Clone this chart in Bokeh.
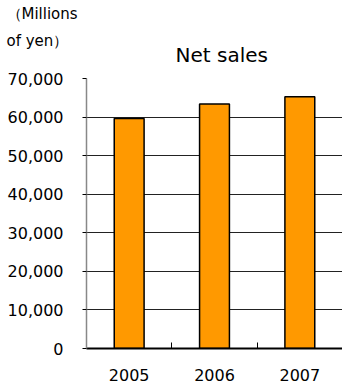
from bokeh.plotting import figure
from bokeh.models import Range1d, FixedTicker, NumeralTickFormatter, Title
from bokeh.embed import file_html
from bokeh.resources import INLINE

years = ["2005", "2006", "2007"]
sales = [59600, 63400, 65300]
y_ticks = [0, 10000, 20000, 30000, 40000, 50000, 60000, 70000]
title_text = "Net sales"
unit_text = "（Millions\nof yen）"

FONT = "DejaVu Sans"
xs = [i + 1 for i in range(len(years))]

p = figure(width=342, height=388, output_backend="svg", toolbar_location=None,
           x_range=Range1d(0.5, len(years) + 0.5), y_range=Range1d(0, 70000),
           min_border_left=86, min_border_right=0, min_border_top=78, min_border_bottom=40)
p.outline_line_color = None
p.background_fill_color = "white"
p.border_fill_color = "white"

p.vbar(x=xs, top=sales, bottom=0, width=0.35, fill_color="#FF9900",
       line_color="black", line_width=1.5)

ya = p.yaxis[0]
ya.ticker = FixedTicker(ticks=y_ticks)
ya.formatter = NumeralTickFormatter(format="0,0")
ya.axis_line_color = "#888888"
ya.axis_line_width = 1.5
ya.major_tick_in = 0
ya.major_tick_out = 4
ya.major_tick_line_color = "black"
ya.minor_tick_line_color = None
ya.major_label_standoff = 19
ya.major_label_text_font = FONT
ya.major_label_text_font_size = "16px"
ya.major_label_text_color = "black"

xa = p.xaxis[0]
xa.ticker = FixedTicker(ticks=xs, minor_ticks=[i + 1.5 for i in range(len(years) - 1)])
xa.major_label_overrides = {x: y for x, y in zip(xs, years)}
xa.major_tick_line_color = None
xa.minor_tick_in = 6
xa.minor_tick_out = 0
xa.minor_tick_line_color = "black"
xa.axis_line_color = "black"
xa.axis_line_width = 2
xa.major_label_standoff = 14
xa.major_label_text_font = FONT
xa.major_label_text_font_size = "16px"
xa.major_label_text_color = "black"

p.xgrid.grid_line_color = None
p.ygrid.ticker = FixedTicker(ticks=y_ticks)
p.ygrid.grid_line_color = "#222222"
p.ygrid.grid_line_width = 1

p.add_layout(Title(text=title_text, align="left", offset=89, standoff=23,
                   text_font=FONT, text_font_size="20px", text_font_style="normal",
                   text_color="black"), "above")
p.add_layout(Title(text=unit_text, align="left", offset=-80, standoff=-41,
                   text_font=FONT, text_font_size="15px", text_font_style="normal",
                   text_line_height=1.48, text_color="black"), "above")

open("out.html", "w").write(file_html(p, INLINE))
